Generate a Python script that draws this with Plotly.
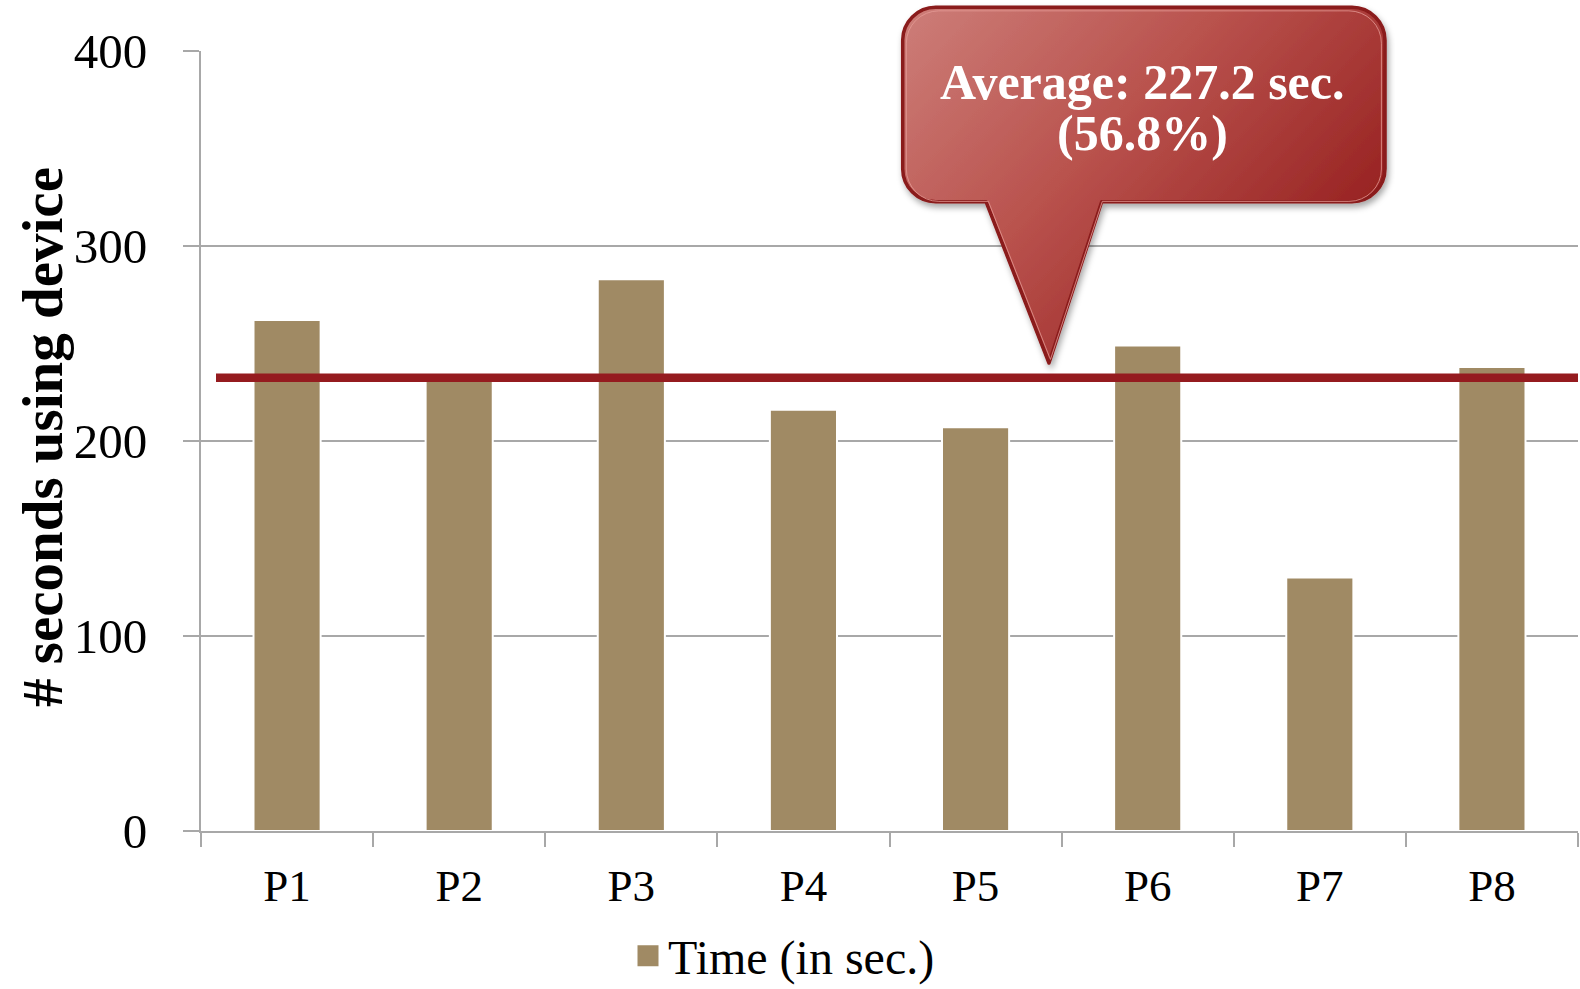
import base64
import plotly.graph_objects as go

# ---- data ----
categories = ["P1", "P2", "P3", "P4", "P5", "P6", "P7", "P8"]
time_values = [262, 232, 283, 216, 207, 249, 130, 238]
series_name = "Time (in sec.)"
y_ticks = [0, 100, 200, 300, 400]
average_line_level = 232.5
callout_line1 = "Average: 227.2 sec."
callout_line2 = "(56.8%)"
y_title = "# seconds using device"

BAR_COLOR = "#A08A64"
LINE_RED = "#951B1F"
GRID = "#A8A8A8"
FONT = "Liberation Serif"

fig = go.Figure()
fig.add_trace(go.Bar(
    x=categories, y=time_values, name=series_name,
    marker=dict(color=BAR_COLOR, line=dict(color="white", width=2)),
    showlegend=False,
))
# legend entry (larger square symbol)
fig.add_trace(go.Scatter(
    x=[categories[0]], y=[None], mode="markers", name=series_name,
    marker=dict(symbol="square", size=16, color=BAR_COLOR,
                line=dict(color=BAR_COLOR, width=5)),
    showlegend=True, hoverinfo="skip",
))

# ---- callout image (gradient balloon) ----
r = 33
L, T, R, B = 7.7, 7.3, 490, 201.7
bl, br, tipx, tipy = 91, 206.7, 154, 363
path = (f"M{L+r},{T} H{R-r} A{r},{r} 0 0 1 {R},{T+r} V{B-r} A{r},{r} 0 0 1 {R-r},{B} "
        f"H{br} L{tipx},{tipy} L{bl},{B} H{L+r} A{r},{r} 0 0 1 {L},{B-r} V{T+r} "
        f"A{r},{r} 0 0 1 {L+r},{T} Z")
svg = f'''<svg xmlns="http://www.w3.org/2000/svg" width="500" height="375" viewBox="0 0 500 375">
<defs>
<linearGradient id="g" x1="0" y1="0" x2="1" y2="0.7">
<stop offset="0" stop-color="#CD7E79"/>
<stop offset="0.45" stop-color="#B9524D"/>
<stop offset="1" stop-color="#921A1A"/>
</linearGradient>
<filter id="s" x="-10%" y="-10%" width="130%" height="130%">
<feDropShadow dx="2" dy="4" stdDeviation="3" flood-color="#000" flood-opacity="0.35"/>
</filter>
</defs>
<path d="{path}" fill="url(#g)" stroke="#8A1A1A" stroke-width="3.5" stroke-linejoin="round" filter="url(#s)"/>
<path d="{path}" fill="none" stroke="#E59C96" stroke-width="0.8" stroke-linejoin="round" transform="translate(250 185) scale(0.985 0.98) translate(-250 -185)"/>
</svg>'''
src = "data:image/svg+xml;base64," + base64.b64encode(svg.encode()).decode()

PL, PT, PR, PB = 201, 51, 1578, 831
W, H = PR - PL, PB - PT
def px(x):
    return (x - PL) / W
def py(y):
    return (PB - y) / H

fig.add_layout_image(dict(
    source=src, xref="paper", yref="paper",
    x=px(895), y=py(0), sizex=500 / W, sizey=375 / H,
    xanchor="left", yanchor="top", sizing="stretch", layer="above",
))

# average line
fig.add_shape(type="line", xref="paper", yref="y",
              x0=px(216), x1=1.0, y0=average_line_level, y1=average_line_level,
              line=dict(color=LINE_RED, width=8.5), layer="above")

fig.add_annotation(text=f"<b>{callout_line1}</b>", xref="paper", yref="paper",
                   x=px(1142), y=py(82), xanchor="center", yanchor="middle",
                   showarrow=False, font=dict(family=FONT, size=50, color="white"))
fig.add_annotation(text=f"<b>{callout_line2}</b>", xref="paper", yref="paper",
                   x=px(1142), y=py(133), xanchor="center", yanchor="middle",
                   showarrow=False, font=dict(family=FONT, size=50, color="white"))

fig.add_annotation(text=f"<b>{y_title}</b>", xref="paper", yref="paper",
                   x=px(42), y=py(437), xanchor="center", yanchor="middle",
                   textangle=-90, showarrow=False,
                   font=dict(family=FONT, size=57, color="black"))

fig.update_layout(
    width=1580, height=989,
    margin=dict(l=PL, r=1580 - PR, t=PT, b=989 - PB, pad=0, autoexpand=False),
    paper_bgcolor="white", plot_bgcolor="white",
    bargap=0.61,
    font=dict(family=FONT, color="black"),
    showlegend=True,
    legend=dict(orientation="h", xref="container", yref="container",
                x=628 / 1580, y=1 - 956 / 989, xanchor="left", yanchor="middle",
                font=dict(family=FONT, size=48), itemwidth=30,
                bgcolor="rgba(0,0,0,0)"),
)
fig.update_xaxes(
    type="category", tickson="boundaries", ticks="outside", ticklen=14,
    tickwidth=2, tickcolor=GRID, showline=True, linecolor=GRID, linewidth=2,
    showgrid=False, tickfont=dict(family=FONT, size=45, color="black"),
    ticklabelstandoff=14, fixedrange=True, automargin=False,
)
fig.update_yaxes(
    range=[0, 400], tickvals=y_ticks, ticktext=[str(v) for v in y_ticks],
    ticks="outside", ticklen=16, tickwidth=2, tickcolor=GRID,
    showline=True, linecolor=GRID, linewidth=2,
    showgrid=True, gridcolor=GRID, gridwidth=2, zeroline=False,
    tickfont=dict(family=FONT, size=49, color="black"),
    ticklabelstandoff=26, fixedrange=True, automargin=False,
)

fig.write_html("out.html", config={"displayModeBar": False},
               post_script="document.body.style.margin='0';")
